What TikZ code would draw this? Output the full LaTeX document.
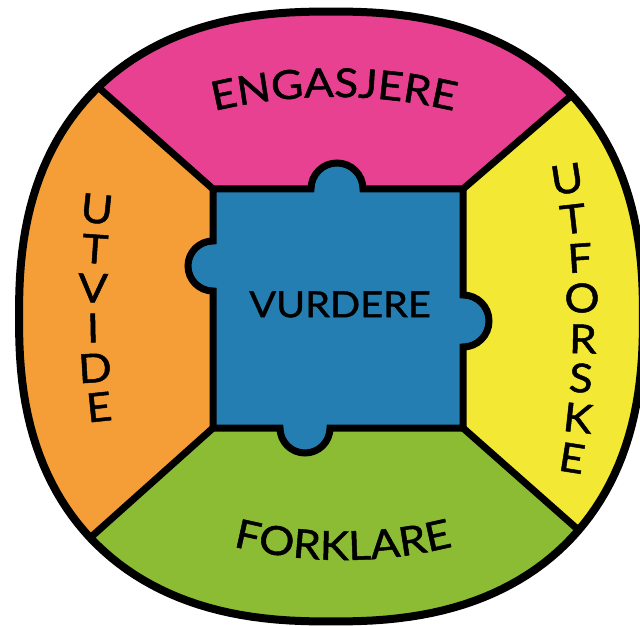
\documentclass[tikz,border=0pt]{standalone}
\usepackage{fontspec}
\setmainfont{Lato}
\newfontfamily\wfont{Lato}[FakeStretch=1.1,FakeBold=1.2]
\usetikzlibrary{calc,decorations.text}
\definecolor{cpink}{RGB}{232,65,145}
\definecolor{corange}{RGB}{245,158,56}
\definecolor{cyellow}{RGB}{243,232,52}
\definecolor{cgreen}{RGB}{140,188,51}
\definecolor{cblue}{RGB}{37,126,178}
\newcommand\bigfmt{\wfont\fontsize{40}{44}\selectfont}
\newcommand\midfmt{\wfont\fontsize{36}{40}\selectfont}
\begin{document}
\begin{tikzpicture}[x=1pt,y=1pt,
  outline/.style={line width=8pt, draw=black, line join=round},
  seam/.style={line width=7pt, draw=black},
  letter/.style={font=\bigfmt, inner sep=0pt, anchor=center},
]
\useasboundingbox (0,0) rectangle (640,625);
% inner corners
\coordinate (TLi) at (213,436);
\coordinate (TRi) at (463,436);
\coordinate (BRi) at (463,197);
\coordinate (BLi) at (213,197);
% junctions on the outer rim
\coordinate (TLj) at (98,538);
\coordinate (TRj) at (572,530);
\coordinate (BLj) at (90,87);
\coordinate (BRj) at (583,91);
\coordinate (TLe) at ($(TLi)!2.5!(TLj)$);
\coordinate (TRe) at ($(TRi)!2.5!(TRj)$);
\coordinate (BLe) at ($(BLi)!2.5!(BLj)$);
\coordinate (BRe) at ($(BRi)!2.5!(BRj)$);
\begin{scope}
  \clip plot[domain=1:361,samples=181] ({331+312*cos(\x)*pow(abs(cos(\x)),-0.16667)},{308.5+305*sin(\x)*pow(abs(sin(\x)),-0.16667)}) -- cycle;
  \fill[cpink] (TLi) -- (TLe) -- (TRe) -- (TRi) -- cycle;
  \fill[cyellow] (TRi) -- (TRe) -- (BRe) -- (BRi) -- cycle;
  \fill[cgreen] (BRi) -- (BRe) -- (BLe) -- (BLi) -- cycle;
  \fill[corange] (BLi) -- (BLe) -- (TLe) -- (TLi) -- cycle;
  \draw[seam] (TLi) -- (TLe);
  \draw[seam] (TRi) -- (TRe);
  \draw[seam] (BRi) -- (BRe);
  \draw[seam] (BLi) -- (BLe);
\end{scope}
% central puzzle piece
\draw[seam, fill=cblue] (TLi) -- (311,436) arc[start angle=180, end angle=0, radius=26]
  -- (TRi) -- (463,330) arc[start angle=90, end angle=-90, radius=26]
  -- (BRi) -- (330,197) arc[start angle=0, end angle=-180, radius=25]
  -- (BLi) -- (213,334) arc[start angle=-90, end angle=-270, radius=25] -- cycle;
% outer rim
\draw[outline] plot[domain=1:361,samples=181] ({331+312*cos(\x)*pow(abs(cos(\x)),-0.16667)},{308.5+305*sin(\x)*pow(abs(sin(\x)),-0.16667)}) -- cycle;
% texts
\node[font=\midfmt, inner sep=0pt] (vurdere) at (340,320.5) {VURDERE};
\path[decorate, decoration={text along path, text align=center, text={|\bigfmt|ENGASJERE}}]
  (334,8) ++(115:520) arc[start angle=115, end angle=65, radius=520];
\path[decorate, decoration={text along path, text align=center, text={|\bigfmt|FORKLARE}}]
  (343,515) ++(240:450) arc[start angle=240, end angle=300, radius=450];
\foreach \c/\px/\py/\r [count=\i] in {U/97/416/-6, T/95/376/-4, V/93/337/-1.5, I/93/297/1, D/95/257/3.5, E/99/218/6}
  \node[letter, rotate=\r] (utvide\i) at (\px,\py) {\c};
\foreach \c/\px/\py/\r [count=\i] in {U/567/446/8.9, T/573/406/6.4, F/580/367/3.9, O/582/327/1.3, R/583/286/-1.3, S/581/247/-3.8, K/578/207/-6.3, E/572/167/-8.9}
  \node[letter, rotate=\r] (utforske\i) at (\px,\py) {\c};
\end{tikzpicture}
\end{document}
